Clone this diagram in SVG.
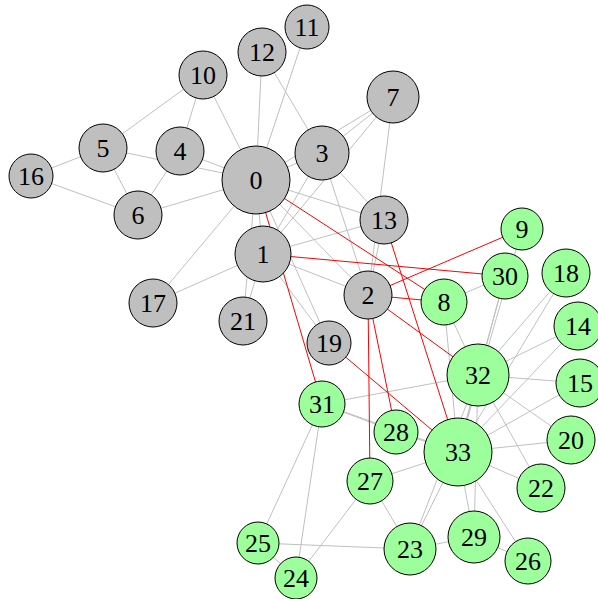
<svg xmlns="http://www.w3.org/2000/svg" width="598" height="599" viewBox="0 0 598 599">
<style>
.e{stroke:#c0c0c0;stroke-width:1;fill:none}
.r{stroke:#ff0000;stroke-width:1;fill:none}
.g circle{fill:#bfbfbf;stroke:#000;stroke-width:1}
.n circle{fill:#9cff9c;stroke:#000;stroke-width:1}
text{font-family:"Liberation Serif","DejaVu Serif",serif;font-size:26px;text-anchor:middle;fill:#000}
</style>
<rect width="598" height="599" fill="#fff"/>
<g id="edges">
<line class="e" x1="256" y1="180" x2="263" y2="254"/>
<line class="e" x1="256" y1="180" x2="368" y2="295"/>
<line class="e" x1="256" y1="180" x2="322" y2="153"/>
<line class="e" x1="256" y1="180" x2="180" y2="151"/>
<line class="e" x1="256" y1="180" x2="103" y2="148"/>
<line class="e" x1="256" y1="180" x2="138" y2="215"/>
<line class="e" x1="256" y1="180" x2="393" y2="97"/>
<line class="e" x1="256" y1="180" x2="203" y2="75"/>
<line class="e" x1="256" y1="180" x2="307" y2="27"/>
<line class="e" x1="256" y1="180" x2="262" y2="52"/>
<line class="e" x1="256" y1="180" x2="384" y2="220"/>
<line class="e" x1="256" y1="180" x2="153" y2="303"/>
<line class="e" x1="256" y1="180" x2="329" y2="343"/>
<line class="e" x1="256" y1="180" x2="243" y2="321"/>
<line class="e" x1="263" y1="254" x2="368" y2="295"/>
<line class="e" x1="263" y1="254" x2="322" y2="153"/>
<line class="e" x1="263" y1="254" x2="393" y2="97"/>
<line class="e" x1="263" y1="254" x2="384" y2="220"/>
<line class="e" x1="263" y1="254" x2="153" y2="303"/>
<line class="e" x1="263" y1="254" x2="329" y2="343"/>
<line class="e" x1="263" y1="254" x2="243" y2="321"/>
<line class="e" x1="368" y1="295" x2="322" y2="153"/>
<line class="e" x1="368" y1="295" x2="393" y2="97"/>
<line class="e" x1="368" y1="295" x2="384" y2="220"/>
<line class="e" x1="322" y1="153" x2="393" y2="97"/>
<line class="e" x1="322" y1="153" x2="262" y2="52"/>
<line class="e" x1="322" y1="153" x2="384" y2="220"/>
<line class="e" x1="180" y1="151" x2="138" y2="215"/>
<line class="e" x1="180" y1="151" x2="203" y2="75"/>
<line class="e" x1="103" y1="148" x2="138" y2="215"/>
<line class="e" x1="103" y1="148" x2="203" y2="75"/>
<line class="e" x1="103" y1="148" x2="31" y2="176"/>
<line class="e" x1="138" y1="215" x2="31" y2="176"/>
<line class="e" x1="444" y1="302" x2="505" y2="276"/>
<line class="e" x1="444" y1="302" x2="478" y2="375"/>
<line class="e" x1="444" y1="302" x2="458" y2="452"/>
<line class="e" x1="522" y1="229" x2="458" y2="452"/>
<line class="e" x1="578" y1="326" x2="478" y2="375"/>
<line class="e" x1="578" y1="326" x2="458" y2="452"/>
<line class="e" x1="580" y1="383" x2="478" y2="375"/>
<line class="e" x1="580" y1="383" x2="458" y2="452"/>
<line class="e" x1="566" y1="273" x2="478" y2="375"/>
<line class="e" x1="566" y1="273" x2="458" y2="452"/>
<line class="e" x1="571" y1="440" x2="478" y2="375"/>
<line class="e" x1="571" y1="440" x2="458" y2="452"/>
<line class="e" x1="541" y1="488" x2="478" y2="375"/>
<line class="e" x1="541" y1="488" x2="458" y2="452"/>
<line class="e" x1="410" y1="549" x2="258" y2="543"/>
<line class="e" x1="410" y1="549" x2="370" y2="481"/>
<line class="e" x1="410" y1="549" x2="474" y2="537"/>
<line class="e" x1="410" y1="549" x2="478" y2="375"/>
<line class="e" x1="410" y1="549" x2="458" y2="452"/>
<line class="e" x1="296" y1="578" x2="258" y2="543"/>
<line class="e" x1="296" y1="578" x2="370" y2="481"/>
<line class="e" x1="296" y1="578" x2="322" y2="404"/>
<line class="e" x1="258" y1="543" x2="322" y2="404"/>
<line class="e" x1="528" y1="561" x2="474" y2="537"/>
<line class="e" x1="528" y1="561" x2="458" y2="452"/>
<line class="e" x1="370" y1="481" x2="458" y2="452"/>
<line class="e" x1="396" y1="432" x2="322" y2="404"/>
<line class="e" x1="396" y1="432" x2="458" y2="452"/>
<line class="e" x1="474" y1="537" x2="478" y2="375"/>
<line class="e" x1="474" y1="537" x2="458" y2="452"/>
<line class="e" x1="505" y1="276" x2="478" y2="375"/>
<line class="e" x1="505" y1="276" x2="458" y2="452"/>
<line class="e" x1="322" y1="404" x2="478" y2="375"/>
<line class="e" x1="322" y1="404" x2="458" y2="452"/>
<line class="e" x1="478" y1="375" x2="458" y2="452"/>
<line class="r" x1="256" y1="180" x2="444" y2="302"/>
<line class="r" x1="256" y1="180" x2="322" y2="404"/>
<line class="r" x1="263" y1="254" x2="505" y2="276"/>
<line class="r" x1="368" y1="295" x2="444" y2="302"/>
<line class="r" x1="368" y1="295" x2="522" y2="229"/>
<line class="r" x1="368" y1="295" x2="370" y2="481"/>
<line class="r" x1="368" y1="295" x2="396" y2="432"/>
<line class="r" x1="368" y1="295" x2="478" y2="375"/>
<line class="r" x1="384" y1="220" x2="458" y2="452"/>
<line class="r" x1="329" y1="343" x2="458" y2="452"/>
</g>
<g id="n0" class="g"><circle cx="256" cy="180" r="34"/><text x="256" y="189">0</text></g>
<g id="n1" class="g"><circle cx="263" cy="254" r="28"/><text x="263" y="263">1</text></g>
<g id="n2" class="g"><circle cx="368" cy="295" r="24"/><text x="368" y="304">2</text></g>
<g id="n3" class="g"><circle cx="322" cy="153" r="27"/><text x="322" y="162">3</text></g>
<g id="n4" class="g"><circle cx="180" cy="151" r="24"/><text x="180" y="160">4</text></g>
<g id="n5" class="g"><circle cx="103" cy="148" r="24"/><text x="103" y="157">5</text></g>
<g id="n6" class="g"><circle cx="138" cy="215" r="24"/><text x="138" y="224">6</text></g>
<g id="n7" class="g"><circle cx="393" cy="97" r="26"/><text x="393" y="106">7</text></g>
<g id="n10" class="g"><circle cx="203" cy="75" r="24"/><text x="203" y="84">10</text></g>
<g id="n11" class="g"><circle cx="307" cy="27" r="22"/><text x="307" y="36">11</text></g>
<g id="n12" class="g"><circle cx="262" cy="52" r="24"/><text x="262" y="61">12</text></g>
<g id="n13" class="g"><circle cx="384" cy="220" r="24"/><text x="384" y="229">13</text></g>
<g id="n16" class="g"><circle cx="31" cy="176" r="22"/><text x="31" y="185">16</text></g>
<g id="n17" class="g"><circle cx="153" cy="303" r="24"/><text x="153" y="312">17</text></g>
<g id="n19" class="g"><circle cx="329" cy="343" r="22"/><text x="329" y="352">19</text></g>
<g id="n21" class="g"><circle cx="243" cy="321" r="24"/><text x="243" y="330">21</text></g>
<g id="n8" class="n"><circle cx="444" cy="302" r="23"/><text x="444" y="311">8</text></g>
<g id="n9" class="n"><circle cx="522" cy="229" r="21"/><text x="522" y="238">9</text></g>
<g id="n14" class="n"><circle cx="578" cy="326" r="24"/><text x="578" y="335">14</text></g>
<g id="n15" class="n"><circle cx="580" cy="383" r="24"/><text x="580" y="392">15</text></g>
<g id="n18" class="n"><circle cx="566" cy="273" r="24"/><text x="566" y="282">18</text></g>
<g id="n20" class="n"><circle cx="571" cy="440" r="24"/><text x="571" y="449">20</text></g>
<g id="n22" class="n"><circle cx="541" cy="488" r="24"/><text x="541" y="497">22</text></g>
<g id="n23" class="n"><circle cx="410" cy="549" r="26"/><text x="410" y="558">23</text></g>
<g id="n24" class="n"><circle cx="296" cy="578" r="21"/><text x="296" y="587">24</text></g>
<g id="n25" class="n"><circle cx="258" cy="543" r="21"/><text x="258" y="552">25</text></g>
<g id="n26" class="n"><circle cx="528" cy="561" r="23"/><text x="528" y="570">26</text></g>
<g id="n27" class="n"><circle cx="370" cy="481" r="23"/><text x="370" y="490">27</text></g>
<g id="n28" class="n"><circle cx="396" cy="432" r="22"/><text x="396" y="441">28</text></g>
<g id="n29" class="n"><circle cx="474" cy="537" r="26"/><text x="474" y="546">29</text></g>
<g id="n30" class="n"><circle cx="505" cy="276" r="23"/><text x="505" y="285">30</text></g>
<g id="n31" class="n"><circle cx="322" cy="404" r="23"/><text x="322" y="413">31</text></g>
<g id="n32" class="n"><circle cx="478" cy="375" r="31"/><text x="478" y="384">32</text></g>
<g id="n33" class="n"><circle cx="458" cy="452" r="34"/><text x="458" y="461">33</text></g>
</svg>
